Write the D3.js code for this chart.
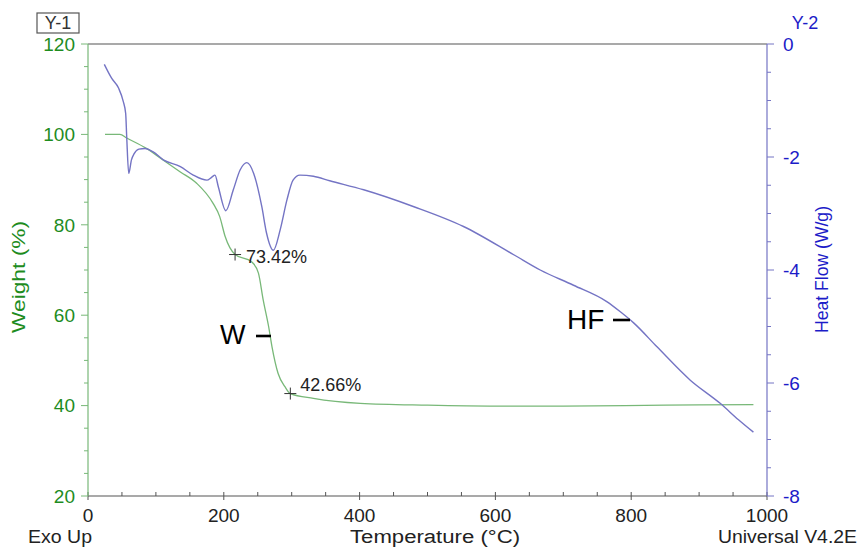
<!DOCTYPE html>
<html>
<head>
<meta charset="utf-8">
<script src="https://cdn.jsdelivr.net/npm/d3@7"></script>
<style>
  body { margin: 0; background: #fff; }
  svg text { font-family: "Liberation Sans", Arial, sans-serif; }
</style>
</head>
<body>
<div id="chart"></div>
<script>
// temperature (°C) and weight (%)
const weightTemp = [25, 47, 57, 86, 111, 136, 160, 184, 194, 202, 216.6, 241, 251, 258, 266, 271, 280, 290, 298, 332, 401, 500, 600, 700, 850, 980];
const weightVals = [100, 100, 99.2, 96.9, 94.3, 91.7, 89.2, 84.8, 81.8, 77.4, 73.42, 71.8, 69.3, 63.4, 57.5, 53, 47.1, 44.2, 42.66, 41.6, 40.5, 40.1, 39.9, 39.9, 40.1, 40.2];

// temperature (°C) and heat flow (W/g)
const heatTemp = [24, 35, 45, 52, 55.5, 57, 60, 64, 68, 75, 84, 96, 111, 136, 155, 175, 182, 187, 192, 203, 214, 224, 234, 244, 256, 263, 273, 283, 293, 302, 312, 332, 356, 406, 480, 553, 627, 666, 715, 764, 784, 804, 838, 887, 931, 958, 980];
const heatVals = [-0.36, -0.61, -0.78, -1.02, -1.23, -1.64, -2.29, -2.05, -1.94, -1.86, -1.85, -1.91, -2.05, -2.17, -2.32, -2.41, -2.36, -2.32, -2.53, -2.95, -2.58, -2.23, -2.10, -2.29, -2.88, -3.35, -3.65, -3.29, -2.76, -2.41, -2.32, -2.34, -2.42, -2.58, -2.88, -3.23, -3.73, -4.0, -4.27, -4.56, -4.74, -4.94, -5.36, -5.95, -6.36, -6.65, -6.87];

// marked points on the weight curve
const markTemp = [216.6, 298];
const markWeight = [73.42, 42.66];

const xTicks = [0, 200, 400, 600, 800, 1000];
const y1Ticks = [20, 40, 60, 80, 100, 120];
const y2Ticks = [0, -2, -4, -6, -8];

const W = 861, H = 547;
const margin = {top: 44, right: 94, bottom: 51, left: 88};
const green = "#1e8c1e", greenLine = "#78b878";
const blue = "#1c1cc8", blueLine = "#7474c4";

const svg = d3.select("#chart").append("svg")
    .attr("width", W)
    .attr("height", H);

const x = d3.scaleLinear().domain([0, 1000]).range([margin.left, W - margin.right]);
const y1 = d3.scaleLinear().domain([20, 120]).range([H - margin.bottom, margin.top]);
const y2 = d3.scaleLinear().domain([-8, 0]).range([H - margin.bottom, margin.top]);

// ---------------------------------------------
// frame and axes
// ---------------------------------------------
svg.append("line")
    .attr("x1", x(0)).attr("x2", x(1000))
    .attr("y1", y1(120)).attr("y2", y1(120))
    .attr("stroke", "#555").attr("stroke-width", 1.2);

// bottom axis: minor ticks inside, majors across
let xAxis = svg.append("g").attr("transform", `translate(0,${y1(20)})`);
xAxis.append("line")
    .attr("x1", x(0)).attr("x2", x(1000))
    .attr("stroke", "#555").attr("stroke-width", 1.2);
xAxis.selectAll(".minor")
    .data(d3.range(0, 1001, 50))
    .enter().append("line")
    .attr("x1", d => x(d)).attr("x2", d => x(d))
    .attr("y1", d => d % 200 === 0 ? 4 : 0).attr("y2", -4)
    .attr("stroke", "#555");
xAxis.selectAll("text")
    .data(xTicks)
    .enter().append("text")
    .attr("x", d => x(d)).attr("y", 26)
    .attr("text-anchor", "middle")
    .attr("font-size", 19)
    .attr("fill", "#222")
    .text(d => d);

// left axis (weight)
let yAxis1 = svg.append("g").attr("transform", `translate(${x(0)},0)`);
yAxis1.append("line")
    .attr("y1", y1(20)).attr("y2", y1(120))
    .attr("stroke", greenLine).attr("stroke-width", 1.2);
yAxis1.selectAll(".tick")
    .data(d3.range(20, 121, 5))
    .enter().append("line")
    .attr("y1", d => y1(d)).attr("y2", d => y1(d))
    .attr("x1", 0).attr("x2", d => d % 20 === 0 ? -7 : -4)
    .attr("stroke", greenLine);
yAxis1.selectAll("text")
    .data(y1Ticks)
    .enter().append("text")
    .attr("x", -13).attr("y", d => y1(d))
    .attr("dy", "0.36em")
    .attr("text-anchor", "end")
    .attr("font-size", 19)
    .attr("fill", green)
    .text(d => d);

// right axis (heat flow)
let yAxis2 = svg.append("g").attr("transform", `translate(${x(1000)},0)`);
yAxis2.append("line")
    .attr("y1", y2(-8)).attr("y2", y2(0))
    .attr("stroke", blueLine).attr("stroke-width", 1.2);
yAxis2.selectAll(".tick")
    .data(d3.range(-8, 0.01, 0.5))
    .enter().append("line")
    .attr("y1", d => y2(d)).attr("y2", d => y2(d))
    .attr("x1", 0).attr("x2", d => d % 2 === 0 ? 7 : 4)
    .attr("stroke", blueLine);
yAxis2.selectAll("text")
    .data(y2Ticks)
    .enter().append("text")
    .attr("x", 16).attr("y", d => y2(d))
    .attr("dy", "0.36em")
    .attr("text-anchor", "start")
    .attr("font-size", 19)
    .attr("fill", blue)
    .text(d => d);

// ---------------------------------------------
// axis titles and corner labels
// ---------------------------------------------
svg.append("rect")
    .attr("x", 37).attr("y", 13).attr("width", 42).attr("height", 20)
    .attr("fill", "none").attr("stroke", "#555").attr("stroke-width", 1.2);
svg.append("text")
    .attr("x", 58).attr("y", 29)
    .attr("text-anchor", "middle").attr("font-size", 18).attr("fill", "#333")
    .text("Y-1");
svg.append("text")
    .attr("x", 805).attr("y", 29)
    .attr("text-anchor", "middle").attr("font-size", 18).attr("fill", blue)
    .text("Y-2");

svg.append("text")
    .attr("transform", "translate(25,333) rotate(-90)")
    .attr("font-size", 18).attr("fill", green)
    .attr("textLength", 112).attr("lengthAdjust", "spacingAndGlyphs")
    .text("Weight (%)");
svg.append("text")
    .attr("transform", "translate(828,333) rotate(-90)")
    .attr("font-size", 18).attr("fill", blue)
    .attr("textLength", 127).attr("lengthAdjust", "spacingAndGlyphs")
    .text("Heat Flow (W/g)");

svg.append("text")
    .attr("x", 28).attr("y", 543)
    .attr("font-size", 18).attr("fill", "#222")
    .attr("textLength", 64).attr("lengthAdjust", "spacingAndGlyphs")
    .text("Exo Up");
svg.append("text")
    .attr("x", 350).attr("y", 543)
    .attr("font-size", 18).attr("fill", "#222")
    .attr("textLength", 170).attr("lengthAdjust", "spacingAndGlyphs")
    .text("Temperature (°C)");
svg.append("text")
    .attr("x", 718).attr("y", 543)
    .attr("font-size", 18).attr("fill", "#222")
    .attr("textLength", 139).attr("lengthAdjust", "spacingAndGlyphs")
    .text("Universal V4.2E");

// ---------------------------------------------
// curves
// ---------------------------------------------
let weightLine = d3.line()
    .x((d, i) => x(weightTemp[i]))
    .y(d => y1(d))
    .curve(d3.curveMonotoneX);
let heatLine = d3.line()
    .x((d, i) => x(heatTemp[i]))
    .y(d => y2(d))
    .curve(d3.curveMonotoneX);

svg.append("path")
    .datum(weightVals)
    .attr("d", weightLine)
    .attr("fill", "none").attr("stroke", greenLine).attr("stroke-width", 1.3);
svg.append("path")
    .datum(heatVals)
    .attr("d", heatLine)
    .attr("fill", "none").attr("stroke", blueLine).attr("stroke-width", 1.4);

// ---------------------------------------------
// markers and annotations
// ---------------------------------------------
let marks = svg.append("g");
markTemp.forEach((t, i) => {
    let cx = x(t), cy = y1(markWeight[i]);
    marks.append("path")
        .attr("d", `M${cx - 6},${cy}H${cx + 6}M${cx},${cy - 6}V${cy + 6}`)
        .attr("stroke", "#333").attr("stroke-width", 1);
    marks.append("text")
        .attr("x", cx + (i === 0 ? 11 : 10)).attr("y", cy + (i === 0 ? 8 : -3))
        .attr("font-size", 18).attr("fill", "#222")
        .text(markWeight[i].toFixed(2) + "%");
});

// curve labels with their short leader dash
svg.append("text")
    .attr("x", 220).attr("y", 344)
    .attr("font-size", 27).attr("fill", "#000")
    .text("W");
svg.append("line")
    .attr("x1", 256).attr("x2", 271).attr("y1", 336).attr("y2", 336)
    .attr("stroke", "#000").attr("stroke-width", 2.6);
svg.append("text")
    .attr("x", 567).attr("y", 329)
    .attr("font-size", 28).attr("fill", "#000")
    .text("HF");
svg.append("line")
    .attr("x1", 613).attr("x2", 630).attr("y1", 320).attr("y2", 320)
    .attr("stroke", "#000").attr("stroke-width", 2.6);
</script>
</body>
</html>
